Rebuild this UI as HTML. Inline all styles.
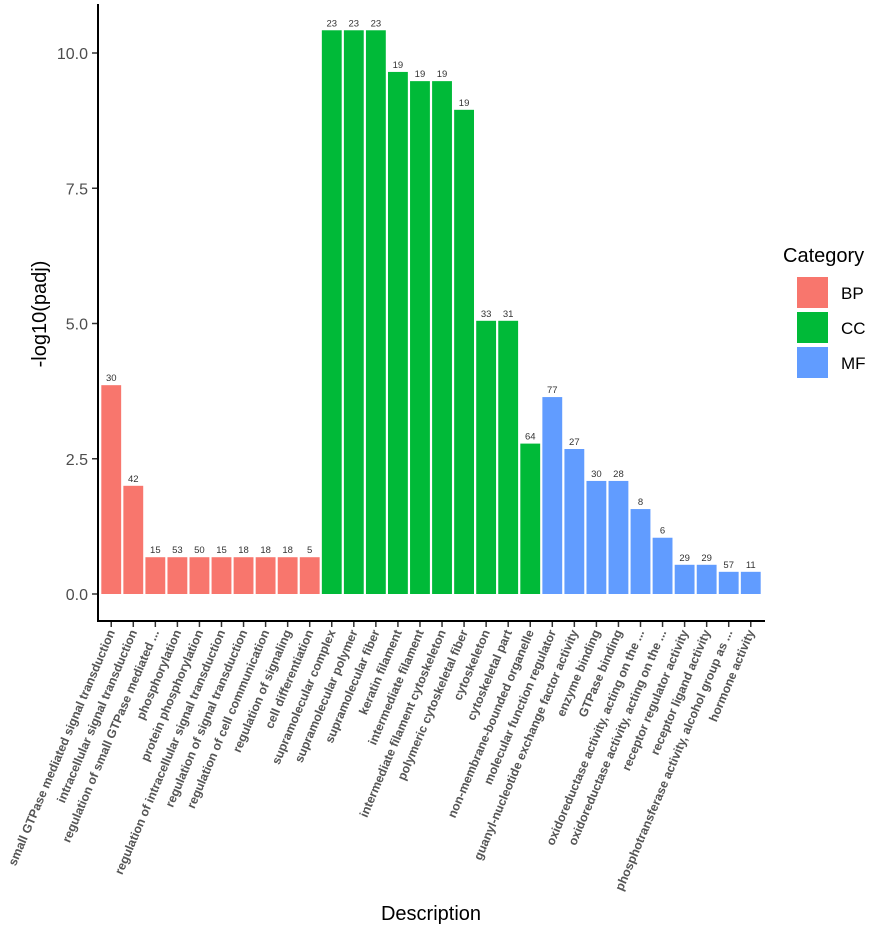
<!DOCTYPE html>
<html><head><meta charset="utf-8">
<style>
body{margin:0;background:#fff;}
svg text{font-family:"Liberation Sans",sans-serif;}
</style></head>
<body>
<svg id="chart" width="886" height="930" xmlns="http://www.w3.org/2000/svg"></svg>
<script>
const categories=["small GTPase mediated signal transduction","intracellular signal transduction","regulation of small GTPase mediated ...","phosphorylation","protein phosphorylation","regulation of intracellular signal transduction","regulation of signal transduction","regulation of cell communication","regulation of signaling","cell differentiation","supramolecular complex","supramolecular polymer","supramolecular fiber","keratin filament","intermediate filament","intermediate filament cytoskeleton","polymeric cytoskeletal fiber","cytoskeleton","cytoskeletal part","non-membrane-bounded organelle","molecular function regulator","guanyl-nucleotide exchange factor activity","enzyme binding","GTPase binding","oxidoreductase activity, acting on the ...","oxidoreductase activity, acting on the ...","receptor regulator activity","receptor ligand activity","phosphotransferase activity, alcohol group as ...","hormone activity"];
const values=[3.86,2.0,0.68,0.68,0.68,0.68,0.68,0.68,0.68,0.68,10.42,10.42,10.42,9.65,9.48,9.48,8.95,5.05,5.05,2.78,3.64,2.68,2.09,2.09,1.57,1.04,0.54,0.54,0.41,0.41];
const counts=[30,42,15,53,50,15,18,18,18,5,23,23,23,19,19,19,19,33,31,64,77,27,30,28,8,6,29,29,57,11];
const groups=["BP","BP","BP","BP","BP","BP","BP","BP","BP","BP","CC","CC","CC","CC","CC","CC","CC","CC","CC","CC","MF","MF","MF","MF","MF","MF","MF","MF","MF","MF"];
const yTicks=[0,2.5,5,7.5,10];
const yTickLabels=["0.0","2.5","5.0","7.5","10.0"];
const legendKeys=["BP","CC","MF"];
const colors={BP:"#F8766D",CC:"#00BA38",MF:"#619CFF"};

const svg=document.getElementById('chart');
const NS="http://www.w3.org/2000/svg";
const X0=98,X1=764,Y0=594,PXU=54.1;
const step=(X1-X0)/(categories.length+0.2);
function xc(i){return X0+step*(0.6+i);}
function y(v){return Y0-v*PXU;}
function mk(t,a,txt){const e=document.createElementNS(NS,t);for(const k in a)e.setAttribute(k,a[k]);if(txt!==undefined)e.textContent=txt;svg.appendChild(e);return e;}

values.forEach((v,i)=>{
  const w=step*0.9;
  const r=mk('rect',{x:xc(i)-w/2,y:y(v),width:w,height:v*PXU,fill:colors[groups[i]]});
  
  
  const t=mk('text',{x:xc(i),y:y(v)-4,'text-anchor':'middle','font-size':'9.5',fill:'#333'},counts[i]);
  
  
  const tk=mk('line',{x1:xc(i),x2:xc(i),y1:621,y2:627,stroke:'#333','stroke-width':1.5});
  
  
  const lx=xc(i)+4,ly=632;
  const l=mk('text',{x:lx,y:ly,'text-anchor':'end','font-size':'12.3','font-weight':'bold',fill:'#555',transform:`rotate(-67 ${lx} ${ly})`},categories[i]);
  
  
});
yTicks.forEach((v,i)=>{
  const tk=mk('line',{x1:92,x2:98,y1:y(v),y2:y(v),stroke:'#333','stroke-width':1.5});
  
  
  const t=mk('text',{x:88,y:y(v)+6,'text-anchor':'end','font-size':'16',fill:'#4d4d4d'},yTickLabels[i]);
  
  
});
const ya=mk('line',{x1:98,x2:98,y1:4,y2:622,stroke:'#000','stroke-width':2});

const xa=mk('line',{x1:97,x2:765,y1:621,y2:621,stroke:'#000','stroke-width':2});

const yt=mk('text',{x:46,y:314,'text-anchor':'middle','font-size':'20',fill:'#000',transform:'rotate(-90 46 314)'},'-log10(padj)');

const xt=mk('text',{x:431,y:920,'text-anchor':'middle','font-size':'20',fill:'#000'},'Description');

const lt=mk('text',{x:783,y:262,'font-size':'20',fill:'#000'},'Category');

legendKeys.forEach((k,i)=>{
  const ry=277+i*35;
  const r=mk('rect',{x:797,y:ry,width:31,height:31,fill:colors[k]});
  
  
  const t=mk('text',{x:841,y:ry+22,'font-size':'17',fill:'#000'},k);
  
  
});
</script>
</body></html>
